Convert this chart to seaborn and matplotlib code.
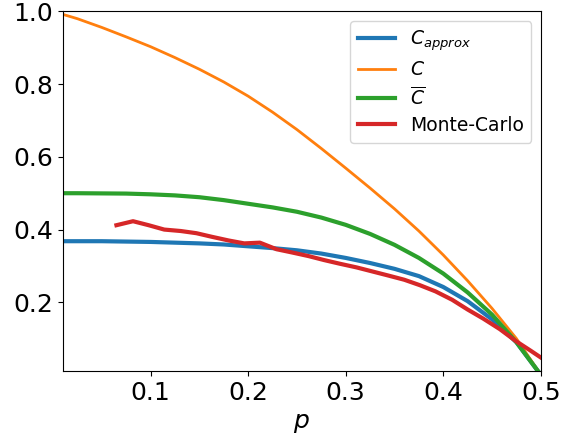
import matplotlib
matplotlib.use("Agg")
import matplotlib.pyplot as plt
import seaborn as sns

# ── data ──────────────────────────────────────────────────────────────────────
p_grid = [0.01, 0.025, 0.05, 0.075, 0.1, 0.125, 0.15, 0.175, 0.2, 0.225, 0.25,
          0.275, 0.3, 0.325, 0.35, 0.375, 0.4, 0.425, 0.45, 0.475, 0.5]
c_approx = [0.368, 0.368, 0.368, 0.367, 0.366, 0.364, 0.362, 0.359, 0.354, 0.349,
            0.343, 0.334, 0.322, 0.308, 0.292, 0.272, 0.242, 0.203, 0.153, 0.090, 0.0]
c_exact = [0.992, 0.980, 0.956, 0.930, 0.903, 0.873, 0.841, 0.806, 0.767, 0.723,
           0.675, 0.623, 0.569, 0.514, 0.457, 0.396, 0.330, 0.259, 0.183, 0.100, 0.0]
c_bar = [0.500, 0.500, 0.4995, 0.499, 0.497, 0.494, 0.489, 0.481, 0.471, 0.461,
         0.449, 0.433, 0.413, 0.388, 0.358, 0.322, 0.279, 0.227, 0.166, 0.090, 0.0]

p_mc = [0.065, 0.082, 0.098, 0.114, 0.131, 0.147, 0.163, 0.180, 0.196, 0.212,
        0.229, 0.245, 0.262, 0.278, 0.294, 0.311, 0.327, 0.343, 0.360, 0.376,
        0.392, 0.409, 0.425, 0.441, 0.458, 0.474, 0.490, 0.500]
c_mc = [0.412, 0.423, 0.412, 0.400, 0.396, 0.390, 0.380, 0.370, 0.362, 0.364,
        0.346, 0.337, 0.327, 0.316, 0.306, 0.296, 0.285, 0.274, 0.262, 0.247,
        0.230, 0.207, 0.180, 0.155, 0.126, 0.094, 0.066, 0.048]

fig, ax = plt.subplots(figsize=(5.76, 4.4), dpi=100)
fig.subplots_adjust(left=0.109, right=0.939, bottom=0.156, top=0.974)

sns.lineplot(x=p_grid, y=c_approx, ax=ax, color="C0", lw=3, label=r"$C_{approx}$")
sns.lineplot(x=p_grid, y=c_exact, ax=ax, color="C1", lw=2, label=r"$C$")
sns.lineplot(x=p_grid, y=c_bar, ax=ax, color="C2", lw=3, label=r"$\overline{C}$")
sns.lineplot(x=p_mc, y=c_mc, ax=ax, color="C3", lw=3, label="Monte-Carlo")

ax.set_xlim(0.01, 0.5)
ax.set_ylim(0.01, 1.0)
ax.set_xticks([0.1, 0.2, 0.3, 0.4, 0.5])
ax.set_yticks([0.2, 0.4, 0.6, 0.8, 1.0])
ax.tick_params(labelsize=18)
ax.set_xlabel(r"$p$", fontsize=18)
ax.legend(loc="upper right", fontsize=13.5, labelspacing=0.4)

fig.savefig("out.png")
plt.close(fig)
